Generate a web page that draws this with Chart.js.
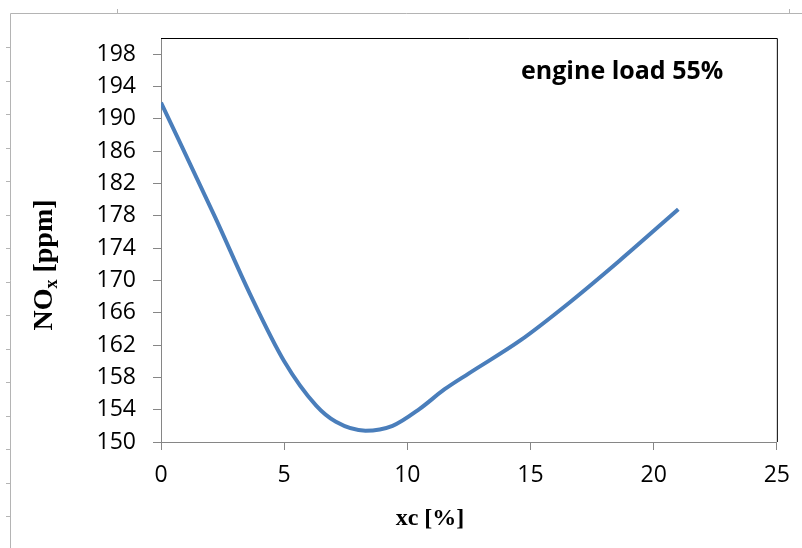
<!DOCTYPE html>
<html>
<head>
<meta charset="utf-8">
<script src="https://cdn.jsdelivr.net/npm/chart.js@4/dist/chart.umd.min.js"></script>
<style>
  html, body { margin: 0; padding: 0; background: #fff; }
  #wrap { width: 802px; height: 548px; position: relative; }
</style>
</head>
<body>
<div id="wrap"><canvas id="chart" width="802" height="548"></canvas></div>
<script>
// values
const xcValues = [0, 2.2, 3.6, 5, 6.3, 7.1, 8.3, 9.4, 10.5, 11.5, 12.5, 14.6, 16.6, 18.6, 21];
const noxValues = [192, 177.8, 168.4, 160.0, 154.5, 152.5, 151.4, 152.0, 154.1, 156.5, 158.5, 162.6, 167.3, 172.4, 178.8];
const yTickValues = [150, 154, 158, 162, 166, 170, 174, 178, 182, 186, 190, 194, 198];
const xTickValues = [0, 5, 10, 15, 20, 25];

const tickFont = { family: 'Open Sans', size: 23 };
const axisGray = '#868686';

// outer frame, plot border and the texts drawn by hand
const decorations = {
  id: 'decorations',
  beforeDraw(chart) {
    const { ctx } = chart;
    ctx.save();
    ctx.fillStyle = '#fff';
    ctx.fillRect(0, 0, chart.width, chart.height);
    ctx.strokeStyle = '#b4b4b4';
    ctx.lineWidth = 1;
    ctx.beginPath();
    ctx.moveTo(10.5, 13.5);
    ctx.lineTo(10.5, chart.height);
    ctx.moveTo(10.5, 13.5);
    ctx.lineTo(chart.width, 13.5);
    for (let y = 47; y < chart.height; y += 33.5) {
      ctx.moveTo(6, Math.round(y) + 0.5);
      ctx.lineTo(10.5, Math.round(y) + 0.5);
    }
    [117, 789].forEach((x) => {
      ctx.moveTo(x + 0.5, 9);
      ctx.lineTo(x + 0.5, 13.5);
    });
    ctx.stroke();
    ctx.restore();
  },
  beforeDatasetsDraw(chart) {
    const { ctx, chartArea: a } = chart;
    ctx.save();
    ctx.strokeStyle = '#000';
    ctx.lineWidth = 1;
    ctx.beginPath();
    ctx.moveTo(a.left, a.top + 0.5);
    ctx.lineTo(a.right + 0.5, a.top + 0.5);
    ctx.lineTo(a.right + 0.5, a.bottom);
    ctx.stroke();
    ctx.restore();
  },
  afterDraw(chart) {
    const { ctx } = chart;
    ctx.save();
    ctx.fillStyle = '#000';

    // annotation
    ctx.font = 'bold 25px "Open Sans"';
    ctx.textAlign = 'left';
    ctx.textBaseline = 'alphabetic';
    ctx.fillText('engine load 55%', 521, 79);

    // x title
    ctx.font = 'bold 24px "Liberation Serif"';
    ctx.textAlign = 'center';
    ctx.fillText('xc [%]', 430, 525);

    // y title with subscript
    ctx.translate(52, 265);
    ctx.rotate(-Math.PI / 2);
    const big = 'bold 28px "Liberation Serif"';
    const small = 'bold 18px "Liberation Serif"';
    ctx.font = big;
    const wNO = ctx.measureText('NO').width;
    const wRest = ctx.measureText(' [ppm]').width;
    ctx.font = small;
    const wX = ctx.measureText('x').width;
    let x = -(wNO + wX + wRest) / 2;
    ctx.textAlign = 'left';
    ctx.font = big;
    ctx.fillText('NO', x, 0);
    x += wNO;
    ctx.font = small;
    ctx.fillText('x', x, 5);
    x += wX;
    ctx.font = big;
    ctx.fillText(' [ppm]', x, 0);
    ctx.restore();
  },
};

new Chart(document.getElementById('chart').getContext('2d'), {
  type: 'line',
  data: {
    datasets: [
      {
        data: xcValues.map((x, i) => ({ x, y: noxValues[i] })),
        borderColor: '#4a7ebb',
        borderWidth: 4,
        cubicInterpolationMode: 'monotone',
        pointRadius: 0,
        fill: false,
      },
    ],
  },
  options: {
    responsive: false,
    animation: false,
    layout: { padding: { top: 38, right: 25, left: 0, bottom: 0 } },
    plugins: { legend: { display: false }, tooltip: { enabled: false } },
    scales: {
      x: {
        type: 'linear',
        min: 0,
        max: 25,
        afterBuildTicks: (s) => (s.ticks = xTickValues.map((v) => ({ value: v }))),
        afterFit: (s) => (s.height = 106),
        border: { color: axisGray, width: 1 },
        grid: { drawOnChartArea: false, drawTicks: true, tickLength: 8, color: axisGray },
        ticks: { color: '#000', font: tickFont, padding: 12, maxRotation: 0 },
      },
      y: {
        type: 'linear',
        min: 150,
        max: 200,
        afterBuildTicks: (s) => (s.ticks = yTickValues.map((v) => ({ value: v }))),
        afterFit: (s) => (s.width = 161),
        border: { color: axisGray, width: 1 },
        grid: { drawOnChartArea: false, drawTicks: true, tickLength: 8, color: axisGray },
        ticks: { color: '#000', font: tickFont, padding: 17 },
      },
    },
  },
  plugins: [decorations],
});
</script>
</body>
</html>
